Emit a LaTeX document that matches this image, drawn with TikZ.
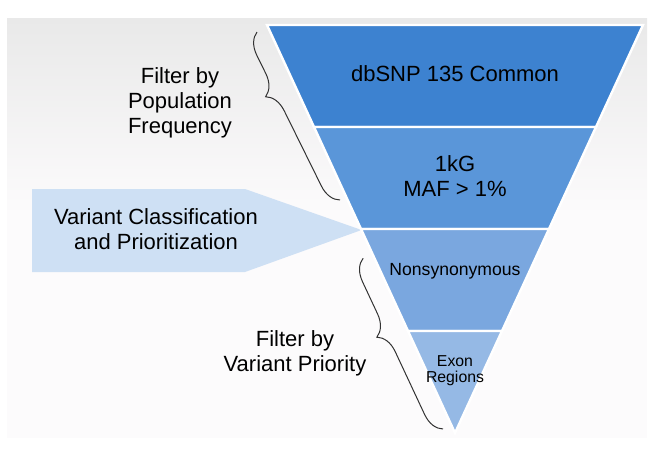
\documentclass[tikz,border=0pt]{standalone}
\usepackage{fontspec}
\setmainfont{Liberation Sans}
\usetikzlibrary{calc,decorations.pathreplacing}
\definecolor{bgtop}{RGB}{233,233,233}
\definecolor{bgbot}{RGB}{252,251,252}
\definecolor{layerA}{RGB}{61,130,208}
\definecolor{layerB}{RGB}{90,150,217}
\definecolor{layerC}{RGB}{122,167,223}
\definecolor{layerD}{RGB}{149,185,229}
\definecolor{pointer}{RGB}{206,224,244}
\tikzset{layer/.style={draw=white,line width=1.2pt}}
\tikzset{tag/.style={align=center,inner sep=0pt,font=\fontsize{11}{12.4}\selectfont}}
\tikzset{small/.style={tag,font=\fontsize{8.8}{10}\selectfont}}
\tikzset{smaller/.style={tag,font=\fontsize{7.9}{8.1}\selectfont}}
\tikzset{curly/.style={decorate,decoration={brace,amplitude=10.5pt,aspect=#1},line width=0.5pt,black!80}}

\begin{document}
\begin{tikzpicture}[x=0.5pt,y=-0.5pt]
        \useasboundingbox (0,0) rectangle (660,455);
        % background panel
        \shade[top color=bgtop,bottom color=bgbot] (7,18) rectangle (647,215);
        \fill[bgbot] (7,214) rectangle (647,438);
        % pointer towards the funnel
        \fill[pointer] (32,189) -- (245,189) -- (361.5,230) -- (245,272) -- (32,272) -- cycle;
        % funnel layers
        \coordinate (apex) at (455,433);
        \coordinate (tl) at (267,25);
        \coordinate (tr) at (643,25);
        \foreach \i/\c in {4/layerA,3/layerB,2/layerC,1/layerD}
            \filldraw[layer,fill=\c] ($(apex)!{\i/4}!(tl)$) -- ($(apex)!{\i/4}!(tr)$)
                -- ($(apex)!{(\i-1)/4}!(tr)$) -- ($(apex)!{(\i-1)/4}!(tl)$) -- cycle;
        \node[tag] (common) at (455,74) {dbSNP 135 Common};
        \node[tag] (kgmaf) at (455,176) {1kG\\MAF > 1\%};
        \node[small] (nonsyn) at (455,271) {Nonsynonymous};
        \node[smaller] (exon) at (455,371) {Exon\\Regions};
        % side labels
        \node[tag] (popfilter) at (180,103) {Filter by\\Population\\Frequency};
        \node[tag] (classify) at (156,229) {Variant Classification\\and Prioritization};
        \node[tag] (priofilter) at (295,353) {Filter by\\Variant Priority};
        % braces
        \coordinate (poptop) at (257,32);
        \coordinate (popbot) at (340,200);
            \draw[curly=0.67] (popbot) -- (poptop);
        \coordinate (priotop) at (363,258);
        \coordinate (priobot) at (443,429);
            \draw[curly=0.59] (priobot) -- (priotop);
    \end{tikzpicture}
\end{document}
